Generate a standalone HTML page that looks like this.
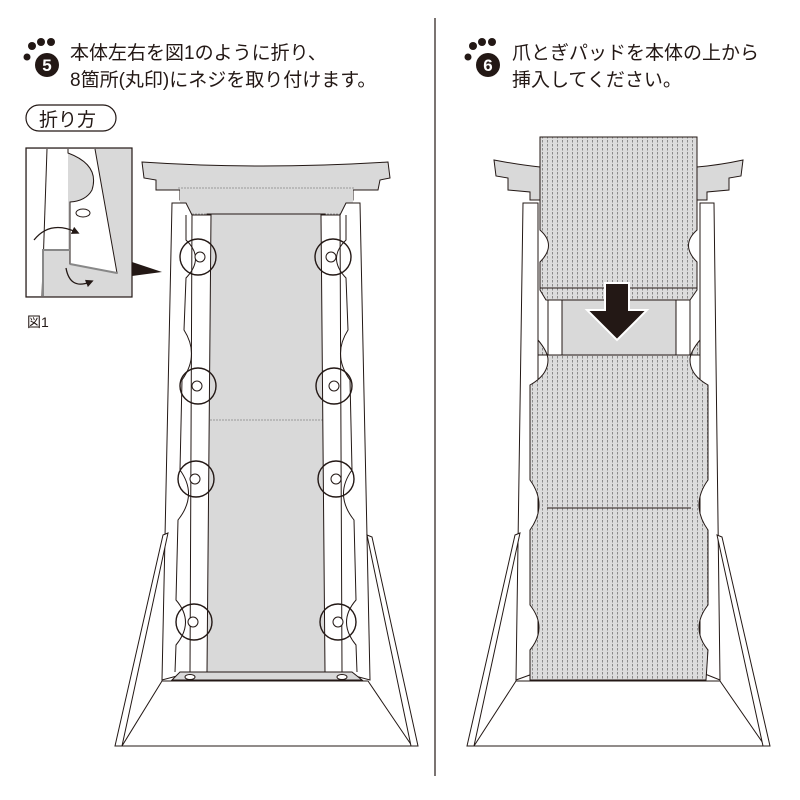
<!DOCTYPE html>
<html><head><meta charset="utf-8"><style>
html,body{margin:0;padding:0;background:#fff}
svg{display:block}
text{font-family:"Liberation Sans","Noto Sans CJK JP",sans-serif;fill:#231815}
</style></head><body>
<svg width="800" height="800" viewBox="0 0 800 800" xmlns="http://www.w3.org/2000/svg">
<defs>
<pattern id="dots" width="5" height="4" patternUnits="userSpaceOnUse">
<rect width="5" height="4" fill="#dcdcdc"/>
<rect x="2" y="0" width="1" height="2.5" fill="#8a8a8a"/>
</pattern>
<marker id="ah" markerWidth="6" markerHeight="6" refX="3" refY="3" orient="auto"><path d="M0,0 L6,3 L0,6 Z" fill="#231815"/></marker>
</defs>
<line x1="435" y1="18" x2="435" y2="776" stroke="#231815" stroke-width="1.2"/>

<!-- paw 5 -->
<g fill="#231815">
<circle cx="47" cy="65" r="12"/><circle cx="27" cy="57" r="3.5"/><circle cx="32" cy="46" r="4"/><circle cx="41" cy="42" r="4"/><circle cx="51" cy="42" r="4"/>
</g>
<text x="47" y="71" font-size="17" font-weight="bold" style="fill:#fff" text-anchor="middle">5</text>
<text x="70" y="59" font-size="19">本体左右を図1のように折り、</text>
<text x="70" y="86" font-size="19">8箇所(丸印)にネジを取り付けます。</text>
<rect x="26" y="105" width="90" height="26" rx="13" fill="none" stroke="#231815" stroke-width="1.2"/>
<text x="39" y="126" font-size="19">折り方</text>

<!-- paw 6 -->
<g fill="#231815">
<circle cx="488" cy="65" r="12"/><circle cx="468" cy="57" r="3.5"/><circle cx="473" cy="46" r="4"/><circle cx="482" cy="42" r="4"/><circle cx="492" cy="42" r="4"/>
</g>
<text x="488" y="71" font-size="17" font-weight="bold" style="fill:#fff" text-anchor="middle">6</text>
<text x="512" y="59" font-size="19">爪とぎパッドを本体の上から</text>
<text x="512" y="86" font-size="19">挿入してください。</text>

<!-- inset fig1 -->
<rect x="26" y="148" width="106" height="149" fill="#d9d9d9" stroke="#231815" stroke-width="1.2"/>
<polygon points="27,149 68,149 68,250 43,250 43,296 27,296" fill="#fff"/>
<path d="M47,149 L42,296" stroke="#231815" fill="none"/>
<path d="M68,149 L68,153 Q100,165 92,190 Q86,201 70,202 L70,264 L117,273 L95,149" fill="#fff" stroke="#231815"/>
<path d="M70,250 L43,250 L43,296" fill="none" stroke="#888" stroke-width="2"/>
<path d="M70,264 L117,273" stroke="#888" stroke-width="2" fill="none"/>
<ellipse cx="83" cy="213" rx="7" ry="4" fill="#fff" stroke="#231815"/>
<path d="M34,240 Q50,220 76,232" fill="none" stroke="#231815" stroke-width="1.3" marker-end="url(#ah)"/>
<path d="M66,268 Q70,290 90,282" fill="none" stroke="#231815" stroke-width="1.3" marker-end="url(#ah)"/>
<polygon points="132,262 162,272 132,276" fill="#231815"/>
<text x="27" y="327" font-size="14">図1</text>

<!-- LEFT structure -->
<g stroke="#231815" stroke-width="1" fill="#fff">
<path d="M142,162 Q260,170 388,162 L390,178 L380,180 L378,190 L353,190 L353,200 L180,200 L180,190 L156,190 L156,180 L144,178 Z" fill="#d9d9d9"/>
<rect x="180" y="188" width="173" height="28" fill="#d9d9d9" stroke="none"/>
<line x1="180" y1="214" x2="353" y2="214" stroke="#999" stroke-dasharray="2,1"/>
<line x1="178" y1="188" x2="355" y2="188" stroke="#999" stroke-dasharray="2,1"/>
<rect x="207" y="214" width="118" height="458" fill="#d9d9d9"/>
<line x1="207" y1="420" x2="325" y2="420" stroke="#999" stroke-dasharray="2,1"/>
<path d="M172,203 L186,203 L192,215 L192,672 L162,680 Z"/>
<path d="M192,215 L211,215 L207,672 L190,672 Z"/>
<path d="M186,215 L186,240 Q205,258 186,278 L184,330 Q200,355 182,380 L180,470 Q198,495 178,520 L176,600 Q195,622 176,645 L175,672" fill="none"/>
<path d="M360,203 L346,203 L340,215 L340,672 L370,680 Z"/>
<path d="M340,215 L321,215 L325,672 L342,672 Z"/>
<path d="M346,215 L346,240 Q327,258 346,278 L348,330 Q332,355 350,380 L352,470 Q334,495 354,520 L356,600 Q337,622 356,645 L357,672" fill="none"/>
<path d="M180,672 L352,672 L362,680 L172,680 Z" fill="#d9d9d9"/>
<ellipse cx="190" cy="677" rx="5" ry="2.5"/><ellipse cx="342" cy="677" rx="5" ry="2.5"/>
<path d="M162,681 L368,681 L412,746 L122,746 Z"/>
<path d="M163,535 L168,533 L122,746 L115,746 Z"/>
<path d="M367,535 L372,537 L418,746 L411,746 Z"/>
</g>
<g stroke="#231815" stroke-width="1.4" fill="none">
<circle cx="198" cy="257" r="18"/><circle cx="198" cy="386" r="18"/><circle cx="196" cy="479" r="18"/><circle cx="194" cy="622" r="18"/>
<circle cx="333" cy="257" r="18"/><circle cx="334" cy="386" r="18"/><circle cx="336" cy="479" r="18"/><circle cx="338" cy="622" r="18"/>
</g>
<g stroke="#231815" stroke-width="1" fill="#fff">
<circle cx="200" cy="257" r="5"/><circle cx="197" cy="386" r="5"/><circle cx="195" cy="479" r="5"/><circle cx="193" cy="622" r="5"/>
<circle cx="331" cy="257" r="5"/><circle cx="334" cy="386" r="5"/><circle cx="336" cy="479" r="5"/><circle cx="338" cy="622" r="5"/>
</g>

<!-- RIGHT structure -->
<g stroke="#231815" stroke-width="1" fill="#fff">
<path d="M494,160 Q520,165 540,167 L540,200 L530,200 L530,192 L508,190 L508,178 L496,176 Z" fill="#d9d9d9"/>
<path d="M743,160 Q720,165 697,167 L697,200 L707,200 L707,192 L729,190 L729,178 L741,176 Z" fill="#d9d9d9"/>
<path d="M523,203 L538,203 L538,672 L516,680 Z"/>
<path d="M714,203 L700,203 L700,672 L720,680 Z"/>
<rect x="548" y="290" width="142" height="66" fill="#fff"/>
<rect x="562" y="300" width="114" height="56" fill="#d9d9d9"/>
<path d="M540,137 L697,137 L697,230 Q680,245 697,262 L697,290 L690,300 L546,300 L540,290 L540,262 Q557,245 540,230 Z" fill="url(#dots)"/>
<path d="M540,288 L697,288" fill="none"/>
<path d="M538,355 L700,355 L700,340 Q690,352 690,360 Q690,375 708,385 L708,480 Q690,505 708,530 L708,605 Q690,628 708,650 L706,680 L530,680 L530,650 Q548,628 530,605 L530,530 Q548,505 530,480 L530,385 Q548,375 548,360 Q548,352 538,340 Z" fill="url(#dots)"/>
<line x1="547" y1="508" x2="691" y2="508"/>
<path d="M516,681 L720,681 L765,746 L474,746 Z"/>
<path d="M515,535 L520,533 L474,746 L467,746 Z"/>
<path d="M717,535 L722,537 L770,746 L763,746 Z"/>
</g>
<polygon points="605,283 629,283 629,310 647,310 617,340 587,310 605,310" fill="#231815" stroke="#fff" stroke-width="2"/>
</svg>
</body></html>
